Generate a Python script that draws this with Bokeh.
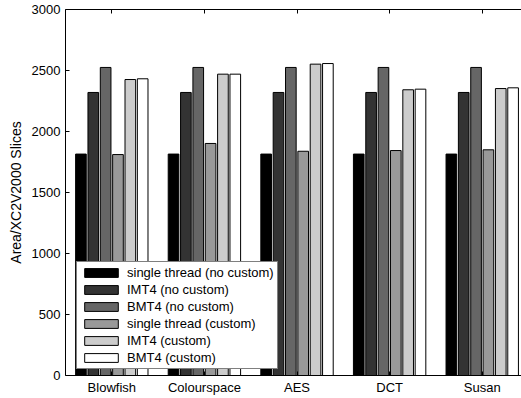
from bokeh.plotting import figure
from bokeh.models import ColumnDataSource, FixedTicker, LinearAxis, Range1d, Legend, LegendItem
from bokeh.embed import file_html
from bokeh.resources import INLINE

categories = ["Blowfish", "Colourspace", "AES", "DCT", "Susan"]
series_names = ["single thread (no custom)", "IMT4 (no custom)", "BMT4 (no custom)",
                "single thread (custom)", "IMT4 (custom)", "BMT4 (custom)"]
single_nc = [1815, 1815, 1815, 1815, 1815]
imt4_nc = [2320, 2320, 2320, 2320, 2320]
bmt4_nc = [2525, 2525, 2525, 2525, 2525]
single_c = [1811, 1902, 1838, 1844, 1850]
imt4_c = [2426, 2470, 2552, 2342, 2352]
bmt4_c = [2432, 2470, 2557, 2347, 2358]
yticks = [0, 500, 1000, 1500, 2000, 2500, 3000]

series = [single_nc, imt4_nc, bmt4_nc, single_c, imt4_c, bmt4_c]
colors = ["#000000", "#333333", "#666666", "#999999", "#cccccc", "#ffffff"]

FONT = "Liberation Sans"

p = figure(width=521, height=398, output_backend="svg", toolbar_location=None,
           x_range=Range1d(0.5, 5.424), y_range=Range1d(0, 3000),
           min_border_left=65, min_border_top=9, min_border_bottom=23, min_border_right=0)
p.outline_line_color = None
p.xgrid.visible = False
p.ygrid.visible = False
p.background_fill_color = "white"
p.border_fill_color = "white"

step = 0.8 / 6
width = 0.115
group_x = list(range(1, len(categories) + 1))
items = []
for i, (vals, name, col) in enumerate(zip(series, series_names, colors)):
    xs = [g + (i - 2.5) * step for g in group_x]
    src = ColumnDataSource(dict(x=xs, top=vals))
    r = p.vbar(x="x", top="top", width=width, bottom=0, source=src,
               fill_color=col, line_color="black", line_width=1)
    items.append(LegendItem(label=name, renderers=[r]))

# axes
xa = p.xaxis[0]
xa.ticker = FixedTicker(ticks=group_x)
xa.major_label_overrides = {g: c for g, c in zip(group_x, categories)}
ya = p.yaxis[0]
ya.ticker = FixedTicker(ticks=yticks)
ya.axis_label = "Area/XC2V2000 Slices"
for ax in (xa, ya):
    ax.major_tick_in = 4
    ax.major_tick_out = 0
    ax.minor_tick_line_color = None
    ax.axis_line_color = "black"
    ax.major_tick_line_color = "black"
    ax.major_label_text_font = FONT
    ax.major_label_text_font_size = "13px"
    ax.major_label_text_color = "black"
xa.major_label_standoff = 4
ya.major_label_standoff = 5
ya.axis_label_text_font = FONT
ya.axis_label_text_font_size = "14px"
ya.axis_label_text_font_style = "normal"
ya.axis_label_text_color = "black"
ya.axis_label_standoff = 5

top = LinearAxis(ticker=FixedTicker(ticks=group_x), major_label_text_color=None,
                 major_label_text_font_size="1px",
                 major_tick_in=4, major_tick_out=0, minor_tick_line_color=None,
                 axis_line_color="black", major_tick_line_color="black",
                 major_label_standoff=0)
p.add_layout(top, "above")

legend = Legend(items=items, location=(11, 6), label_text_font=FONT,
                label_text_font_size="13px", label_text_color="black",
                glyph_width=42, glyph_height=11, spacing=2, padding=3,
                label_standoff=5, border_line_color="black", border_line_width=1,
                background_fill_color="white", background_fill_alpha=1.0, margin=0)
p.add_layout(legend, "center")

open("out.html", "w").write(file_html(p, INLINE))
